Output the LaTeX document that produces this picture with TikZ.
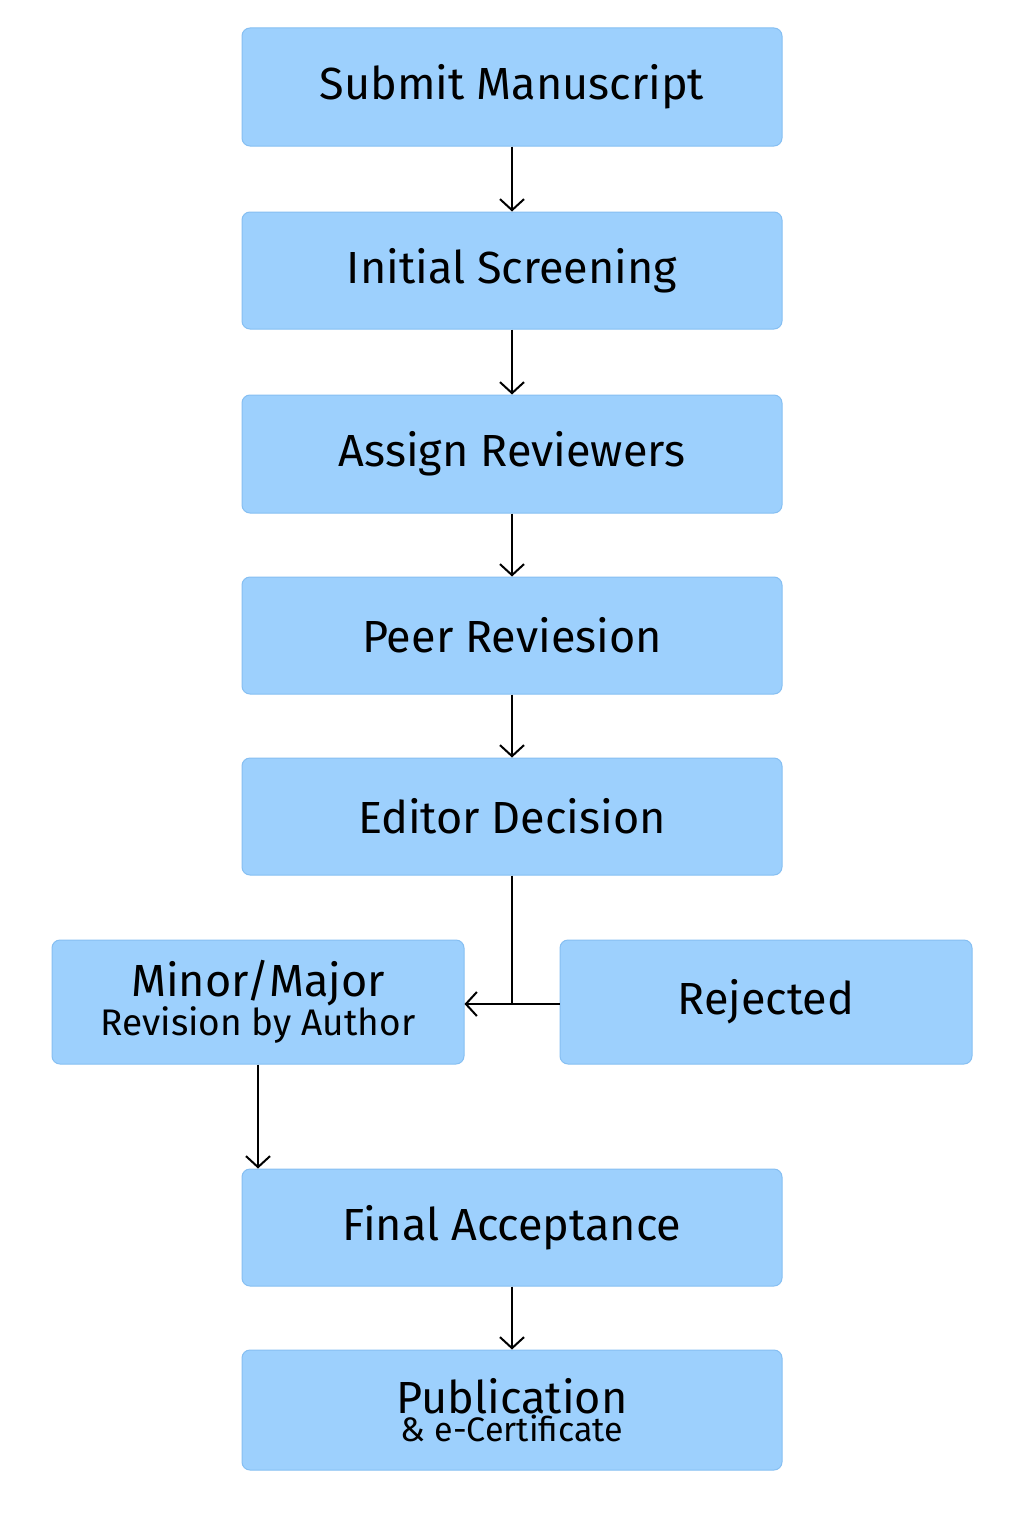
\documentclass[tikz,border=0pt]{standalone}
\usepackage{fontspec}
\setmainfont{Fira Sans}
\usetikzlibrary{arrows.meta}
\definecolor{boxfill}{HTML}{9DD0FD}
\definecolor{boxline}{HTML}{86BFF2}
\begin{document}
\begin{tikzpicture}[x=1pt,y=-1pt,
  box/.style={draw=boxline,fill=boxfill,rounded corners=8pt,line width=1pt,align=center,inner sep=0pt},
  big/.style={font=\fontsize{45}{50}\selectfont},
  arr/.style={line width=2pt,-{Straight Barb[length=11pt,width=24pt,line width=2pt]}}]
\useasboundingbox (0,0) rectangle (1024,1536);
\fill[white] (0,0) rectangle (1024,1536);
\node[box,big,minimum width=540pt,minimum height=118pt] (b1) at (512,87) {Submit Manuscript};
\node[box,big,minimum width=540pt,minimum height=117pt] (b2) at (512,270.5) {Initial Screening};
\node[box,big,minimum width=540pt,minimum height=118pt] (b3) at (512,454) {Assign Reviewers};
\node[box,big,minimum width=540pt,minimum height=117pt] (b4) at (512,635.5) {Peer Reviesion};
\node[box,big,minimum width=540pt,minimum height=117pt] (b5) at (512,816.5) {Editor Decision};
\node[box,minimum width=412pt,minimum height=124pt] (mn) at (258,1002) {\fontsize{45}{45}\selectfont Minor/Major\\\fontsize{37}{47}\selectfont Revision by Author};
\node[box,big,minimum width=412pt,minimum height=124pt] (rj) at (766,1002) {Rejected};
\node[box,big,minimum width=540pt,minimum height=117pt] (fa) at (512,1227.5) {Final Acceptance};
\node[box,minimum width=540pt,minimum height=120pt] (pb) at (512,1410) {\fontsize{45}{45}\selectfont Publication\\\fontsize{34}{42}\selectfont \& e-Certificate};
\coordinate (j) at (512,1004);
\draw[arr] (b1.south) -- (b2.north);
\draw[arr] (b2.south) -- (b3.north);
\draw[arr] (b3.south) -- (b4.north);
\draw[arr] (b4.south) -- (b5.north);
\draw[line width=2pt] (b5.south) -- (j);
\draw[arr] (rj.west |- j) -- (mn.east |- j);
\draw[arr] (mn.south) -- (mn.south |- fa.north);
\draw[arr] (fa.south) -- (pb.north);
\end{tikzpicture}
\end{document}
